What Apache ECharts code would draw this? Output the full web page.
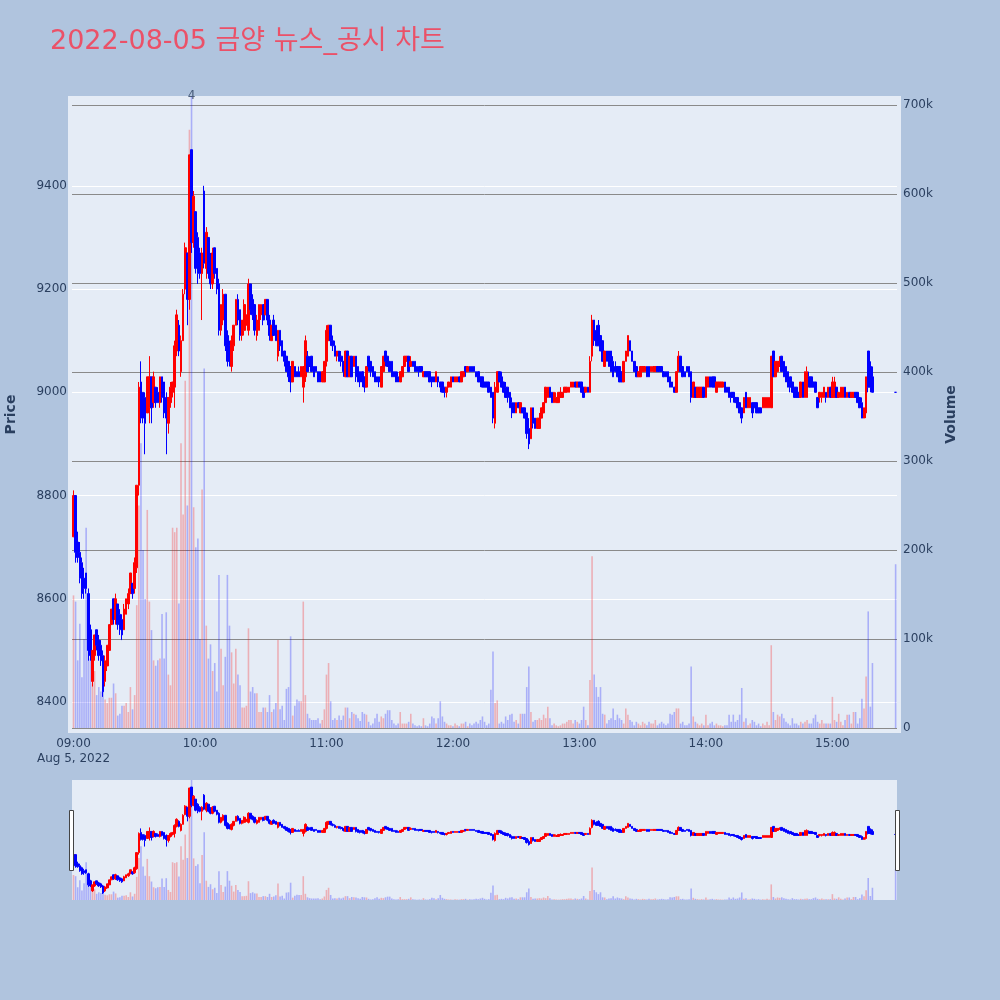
<!DOCTYPE html>
<html>
<head>
<meta charset="utf-8">
<script src="https://cdn.jsdelivr.net/npm/echarts@6/dist/echarts.min.js"></script>
<style>
html,body{margin:0;padding:0;background:#b0c4de;}
#chart{width:1000px;height:1000px;}
</style>
</head>
<body>
<div id="chart"></div>
<script>
// ---------------- DATA ----------------
const chartTitle = '2022-08-05 금양 뉴스_공시 차트';
const dateLabel = 'Aug 5, 2022';
const sessionStart = '09:00';           // first 1-minute bar
// 1-minute bars from 09:00 (one value per minute)
const opens = [
8720,8800,8710,8690,8670,8640,8650,8610,8540,8440,
8490,8540,8520,8510,8490,8440,8470,8500,8550,8600,
8560,8590,8570,8560,8540,8570,8590,8610,8630,8620,
8660,8820,9020,9000,8990,8960,8970,9030,8980,9010,
9000,8980,9030,9020,8990,8940,8980,9000,9010,9080,
9130,9040,9100,9200,9270,9180,9470,9290,9350,9300,
9270,9230,9390,9240,9300,9260,9210,9280,9240,9210,
9120,9140,9190,9110,9090,9050,9090,9130,9180,9160,
9110,9120,9130,9120,9210,9180,9170,9110,9120,9150,
9170,9150,9180,9140,9100,9140,9130,9070,9120,9100,
9080,9070,9060,9050,9020,9050,9040,9040,9030,9010,
9030,9070,9060,9070,9050,9050,9040,9040,9020,9020,
9060,9100,9130,9100,9090,9070,9080,9070,9060,9030,
9080,9030,9070,9050,9070,9050,9040,9040,9030,9010,
9070,9060,9050,9040,9030,9030,9010,9040,9080,9070,
9060,9060,9040,9040,9030,9020,9030,9050,9060,9070,
9050,9060,9060,9050,9050,9050,9030,9040,9040,9040,
9030,9030,9020,9030,9020,9020,9010,9000,9010,9010,
9030,9020,9020,9030,9020,9030,9050,9040,9050,9050,
9050,9040,9040,9030,9030,9020,9020,9020,9010,9000,
8940,9000,9040,9030,9020,9010,9010,9000,8980,8980,
8960,8980,8960,8970,8970,8960,8930,8910,8970,8950,
8930,8930,8950,8960,8980,8990,9010,9000,8980,8980,
8980,8990,8990,9000,9000,9000,9010,9010,9020,9010,
9020,9020,9010,9000,9010,9000,9070,9140,9120,9130,
9110,9100,9050,9080,9080,9080,9060,9050,9050,9050,
9040,9020,9060,9070,9100,9080,9060,9050,9030,9030,
9040,9040,9050,9050,9040,9040,9040,9050,9050,9050,
9040,9040,9040,9030,9020,9010,9000,9040,9070,9050,
9040,9050,9050,9040,8990,9010,8990,8990,8990,9010,
8990,9010,9030,9030,9030,9000,9010,9010,9010,9020,
9010,9010,9000,9000,8990,8990,8980,8970,8960,9000,
8970,8970,8980,8980,8980,8970,8970,8970,8970,8970,
8970,8970,9080,9030,9040,9050,9070,9060,9050,9040,
9030,9020,9010,9010,9000,8990,9020,8990,8990,9030,
9030,9020,9020,8990,8990,8990,8990,9000,8990,9010,
8990,8990,9010,8990,8990,8990,9010,8990,9000,8990,
8990,9000,9000,8990,8980,8950,8960,9080,9050,9030
];
const closes = [
8800,8690,8680,8640,8610,8620,8620,8500,8490,8500,
8530,8510,8490,8480,8420,8480,8510,8550,8580,8560,
8600,8550,8540,8530,8580,8600,8610,8650,8610,8670,
8820,9010,8950,8950,8940,9030,9030,8970,9030,8980,
8980,9030,8990,8960,8950,8990,9010,9020,9090,9150,
9080,9100,9190,9280,9180,9460,9290,9380,9240,9230,
9230,9270,9250,9310,9230,9210,9270,9230,9200,9120,
9170,9190,9090,9060,9060,9100,9130,9180,9140,9110,
9140,9170,9150,9210,9160,9150,9120,9140,9170,9170,
9140,9180,9140,9110,9130,9110,9100,9120,9090,9070,
9060,9040,9030,9020,9060,9030,9030,9030,9050,9050,
9100,9040,9050,9040,9030,9040,9020,9020,9040,9060,
9120,9130,9100,9090,9070,9080,9060,9060,9040,9080,
9030,9070,9030,9070,9030,9020,9020,9020,9010,9050,
9050,9040,9030,9020,9020,9020,9050,9070,9060,9050,
9040,9030,9030,9020,9020,9040,9050,9070,9070,9040,
9060,9050,9040,9040,9040,9040,9040,9030,9030,9020,
9020,9020,9040,9020,9010,9000,9000,9010,9020,9030,
9020,9030,9030,9020,9040,9040,9040,9050,9040,9040,
9040,9030,9020,9020,9010,9010,9010,9000,8990,8950,
9010,9040,9020,9010,9000,8990,8990,8970,8960,8960,
8980,8970,8980,8960,8950,8920,8900,8970,8940,8930,
8950,8950,8970,8980,9010,9010,8990,8980,9000,8990,
9000,9000,9000,9010,9010,9010,9020,9020,9010,9020,
9010,9000,8990,9010,9000,9060,9140,9100,9090,9090,
9080,9060,9080,9060,9050,9040,9030,9040,9030,9020,
9020,9060,9080,9110,9080,9060,9040,9030,9040,9050,
9050,9050,9030,9030,9050,9050,9050,9040,9040,9040,
9030,9030,9020,9010,9010,9000,9040,9070,9040,9030,
9030,9040,9030,8990,9020,8990,9010,9010,9010,8990,
9030,9030,9010,9010,9010,9020,9020,9020,9020,9000,
9000,8990,8990,8990,8980,8970,8960,8950,8990,8970,
8990,8990,8960,8970,8960,8960,8960,8990,8990,8990,
8990,9070,9030,9060,9060,9060,9040,9030,9020,9010,
9010,9000,8990,8990,8990,9020,8990,9040,9040,9010,
9010,9010,9000,8970,9000,9000,9010,8990,9010,8990,
9020,9020,8990,9000,9010,9010,8990,9000,8990,9000,
9000,8990,8980,8970,8950,8970,9030,9010,9010,9000
];
const lows = [
8720,8670,8670,8630,8600,8600,8610,8480,8480,8430,
8480,8500,8480,8470,8410,8430,8460,8500,8550,8550,
8550,8540,8530,8520,8540,8570,8580,8610,8600,8610,
8650,8800,8940,8940,8880,8960,8940,8940,8970,8970,
8980,8970,8980,8950,8880,8920,8970,8990,8970,9070,
9070,9030,9100,9190,9130,9160,9270,9280,9230,9210,
9220,9140,9240,9220,9220,9200,9200,9220,9190,9110,
9110,9130,9080,9050,9050,9040,9080,9130,9130,9100,
9100,9110,9130,9110,9150,9140,9110,9100,9120,9140,
9130,9150,9130,9100,9100,9110,9100,9060,9080,9070,
9050,9040,9020,9000,9020,9030,9030,9030,9030,8980,
9020,9040,9050,9040,9030,9040,9020,9020,9020,9020,
9050,9100,9090,9080,9070,9060,9060,9050,9030,9030,
9030,9030,9030,9050,9020,9020,9010,9010,9000,9010,
9040,9030,9030,9020,9020,9010,9010,9040,9050,9050,
9040,9030,9030,9020,9020,9020,9030,9050,9060,9040,
9050,9050,9040,9040,9030,9040,9030,9030,9030,9020,
9010,9020,9020,9010,9000,9000,8990,8990,9010,9010,
9020,9020,9020,9020,9020,9030,9030,9040,9040,9040,
9040,9030,9020,9010,9010,9010,9010,9000,8990,8940,
8930,9000,9020,9010,9000,8990,8980,8970,8950,8960,
8960,8970,8960,8960,8950,8910,8890,8910,8930,8930,
8930,8930,8950,8960,8980,8990,8990,8980,8980,8980,
8980,8990,8990,9000,9000,9000,9010,9010,9010,9010,
9010,9000,8990,9000,9000,9000,9060,9090,9090,9090,
9080,9060,9050,9060,9050,9040,9030,9040,9030,9020,
9020,9020,9060,9070,9080,9060,9040,9030,9030,9030,
9040,9040,9030,9030,9040,9040,9040,9040,9040,9040,
9030,9030,9020,9010,9010,9000,9000,9040,9040,9030,
9030,9040,9030,8980,8990,8990,8990,8990,8990,8990,
8990,9010,9010,9010,9010,9000,9010,9010,9010,9000,
9000,8990,8980,8980,8980,8970,8960,8940,8960,8970,
8970,8970,8950,8970,8960,8960,8960,8970,8970,8970,
8970,8970,9030,9030,9040,9050,9040,9030,9020,9010,
9000,9000,8990,8990,8990,8990,8990,8990,8990,9010,
9010,9010,9000,8970,8980,8980,8990,8980,8990,8990,
8990,8990,8990,8990,8990,8990,8990,8990,8990,8990,
8990,8990,8980,8970,8950,8950,8950,9000,9000,9000
];
const highs = [
8810,8800,8730,8710,8680,8660,8650,8620,8550,8500,
8530,8540,8530,8520,8500,8490,8510,8550,8580,8600,
8610,8590,8580,8570,8590,8600,8620,8650,8630,8680,
8820,9020,9060,9000,9000,9030,9070,9030,9040,9010,
9010,9030,9030,9020,9000,8990,9020,9020,9100,9160,
9140,9110,9200,9290,9270,9460,9470,9390,9350,9310,
9280,9280,9400,9320,9300,9270,9280,9280,9240,9220,
9170,9200,9190,9120,9100,9110,9130,9180,9190,9160,
9140,9180,9150,9220,9210,9190,9170,9150,9170,9170,
9170,9180,9180,9150,9130,9150,9130,9120,9120,9100,
9080,9070,9060,9050,9060,9050,9040,9050,9050,9050,
9110,9080,9070,9070,9050,9050,9040,9040,9040,9060,
9130,9130,9130,9110,9100,9080,9080,9080,9060,9080,
9080,9070,9070,9070,9070,9050,9040,9040,9030,9050,
9070,9060,9050,9040,9030,9030,9050,9070,9080,9070,
9060,9060,9040,9040,9040,9040,9050,9070,9070,9070,
9070,9060,9060,9050,9050,9050,9040,9040,9040,9040,
9030,9030,9040,9030,9020,9020,9010,9010,9020,9030,
9030,9030,9030,9030,9040,9040,9050,9050,9050,9050,
9050,9040,9040,9030,9030,9020,9020,9020,9010,9000,
9020,9040,9040,9040,9020,9020,9010,9000,8990,8980,
8980,8980,8980,8970,8970,8960,8950,8970,8970,8950,
8950,8960,8970,8980,9010,9010,9010,9000,9000,9000,
9000,9010,9000,9010,9010,9010,9020,9020,9020,9020,
9020,9020,9010,9010,9010,9070,9150,9140,9130,9140,
9110,9100,9080,9080,9080,9080,9070,9060,9050,9050,
9040,9060,9080,9110,9100,9080,9060,9050,9040,9050,
9050,9050,9050,9050,9050,9050,9050,9050,9050,9050,
9040,9040,9040,9030,9020,9010,9040,9080,9070,9050,
9040,9050,9050,9040,9020,9010,9010,9010,9010,9010,
9030,9030,9030,9030,9030,9020,9020,9020,9020,9020,
9010,9010,9000,9000,8990,8990,8980,8970,8990,9000,
8990,8990,8980,8980,8980,8970,8970,8990,8990,8990,
8990,9070,9080,9060,9060,9070,9070,9060,9050,9040,
9030,9020,9010,9010,9000,9020,9020,9040,9050,9040,
9030,9020,9020,8990,9000,9000,9010,9000,9010,9010,
9030,9030,9010,9000,9010,9010,9010,9000,9000,9000,
9000,9000,9000,8990,8990,8970,9030,9080,9060,9050
];
// volume per minute, in thousands of shares
const volumesK = [
149,142,76,117,57,100,225,92,78,50,
64,37,46,41,46,32,28,34,34,50,
39,14,16,25,25,28,18,46,21,37,
138,250,320,200,145,245,142,110,76,70,
76,78,128,78,130,60,48,225,220,225,
140,320,240,390,250,672,715,248,203,213,
100,268,404,115,78,94,64,73,41,172,
89,48,80,172,115,85,50,89,60,48,
23,23,25,112,41,46,39,39,18,18,
23,23,18,37,18,21,28,99,21,25,
9,44,46,103,14,25,32,30,30,142,
37,16,11,9,9,9,11,5,9,21,
60,73,30,9,11,9,14,9,14,23,
23,11,18,16,15,11,8,18,16,15,
7,3,5,11,16,7,13,11,16,20,
20,9,5,3,5,18,5,5,5,7,
16,5,3,2,3,2,11,3,2,5,
13,11,5,11,30,13,7,5,3,3,
2,5,3,2,5,5,7,2,5,3,
5,7,5,9,13,7,3,5,43,86,
28,31,5,7,5,13,9,15,16,7,
9,5,16,16,16,46,69,18,7,9,
9,11,9,15,11,24,11,3,5,3,
2,3,5,5,7,9,9,5,9,7,
5,9,24,9,3,54,193,60,46,35,
46,16,15,5,9,11,22,9,15,11,
9,5,22,15,9,7,3,7,5,3,
7,5,3,7,5,5,9,3,5,7,
5,3,5,16,15,18,22,22,5,7,
3,3,5,69,13,7,5,3,5,3,
15,3,5,7,3,5,3,3,2,3,
3,15,7,15,7,9,15,45,7,11,
3,5,9,7,3,5,2,5,3,7,
3,93,18,9,15,13,16,11,7,5,
3,11,5,5,3,7,5,7,9,5,
5,11,15,7,5,9,5,5,5,5,
35,9,7,16,7,3,9,15,15,5,
18,18,5,11,33,22,58,131,24,73
];
// closing single-price auction
const auctionTime = '15:30';
const auctionOHLC = [9000, 9000, 9000, 9000];   // open, close, low, high
const auctionVolumeK = 184;
// news annotation
const newsTimes = ['09:56'];
const newsCounts = [4];
// axis ticks
const xTickLabels = ['09:00','10:00','11:00','12:00','13:00','14:00','15:00'];
const priceTicks = [8400,8600,8800,9000,9200,9400];
const volumeTicksK = [0,100,200,300,400,500,600,700];

// ---------------- BUILD ----------------
const FONT = "'DejaVu Sans', Verdana, 'Noto Sans CJK KR', sans-serif";
const TXT = '#2a3f5f';
const UP = '#ff0000', DOWN = '#0000ff';
const UP_V = 'rgba(255,0,0,0.26)', DOWN_V = 'rgba(0,0,255,0.26)';

// x positions are minutes after the session start
function mins(hhmm) { const [h, m] = hhmm.split(':').map(Number); return h * 60 + m; }
const base = mins(sessionStart);
function xOf(hhmm) { return mins(hhmm) - base; }
function pad(n) { return (n < 10 ? '0' : '') + n; }
function fmtMin(v) { const t = Math.round(v) + base; return pad(Math.floor(t / 60)) + ':' + pad(t % 60); }

const candleData = opens.map((o, i) => [i, o, closes[i], lows[i], highs[i]]);
candleData.push({
  value: [xOf(auctionTime), auctionOHLC[0], auctionOHLC[1], auctionOHLC[2], auctionOHLC[3]],
  itemStyle: { color: DOWN, color0: DOWN, borderColor: DOWN, borderColor0: DOWN }
});
const volData = volumesK.map((v, i) => ({
  value: [i, v * 1000],
  itemStyle: { color: closes[i] > opens[i] ? UP_V : DOWN_V }
}));
volData.push({ value: [xOf(auctionTime), auctionVolumeK * 1000], itemStyle: { color: DOWN_V } });

const newsData = newsTimes.map((t, i) => [xOf(t), 710000, newsCounts[i]]);

const xMin = -0.71, xMax = 390.65;

const chart = echarts.init(document.getElementById('chart'), null, { renderer: 'canvas' });
chart.setOption({
  animation: false,
  backgroundColor: '#b0c4de',
  title: {
    text: chartTitle, left: 45, top: 23,
    textStyle: { fontFamily: FONT, fontSize: 27, fontWeight: 'normal', color: '#eb5168' }
  },
  graphic: [
    { type: 'rect', z: -10, shape: { x: 68, y: 96, width: 833, height: 637 }, style: { fill: '#e5ecf6' } },
    { type: 'rect', z: -10, shape: { x: 72, y: 780, width: 825, height: 120 }, style: { fill: '#e5ecf6' } },
    { type: 'rect', z: 100, shape: { x: 69.5, y: 810.5, width: 4, height: 60 }, style: { fill: '#ffffff', stroke: '#444', lineWidth: 1 } },
    { type: 'rect', z: 100, shape: { x: 895.5, y: 810.5, width: 4, height: 60 }, style: { fill: '#ffffff', stroke: '#444', lineWidth: 1 } }
  ],
  grid: [
    { left: 72, right: 103, top: 96, bottom: 267, outerBoundsMode: 'none', containLabel: false },
    { left: 72, right: 103, top: 780, height: 120, outerBoundsMode: 'none', containLabel: false }
  ],
  xAxis: [
    {
      type: 'value', gridIndex: 0, min: xMin, max: xMax,
      axisLine: { show: false }, axisTick: { show: false }, splitLine: { show: false },
      axisLabel: {
        customValues: xTickLabels.map(xOf),
        color: TXT, fontFamily: FONT, fontSize: 12, margin: 3, lineHeight: 15,
        formatter: function (v) {
          const s = fmtMin(v);
          return s === xTickLabels[0] ? s + '\n' + dateLabel : s;
        }
      }
    },
    {
      type: 'value', gridIndex: 1, min: xMin, max: xMax, show: false,
      axisLine: { show: false }, axisTick: { show: false }, splitLine: { show: false }, axisLabel: { show: false }
    }
  ],
  yAxis: [
    {
      type: 'value', gridIndex: 0, position: 'left', min: 8340, max: 9574, splitNumber: 6,
      axisLine: { show: false }, axisTick: { show: false },
      splitLine: { show: true, showMinLine: false, showMaxLine: false, lineStyle: { color: '#ffffff', width: 1 } },
      axisLabel: {
        color: TXT, fontFamily: FONT, fontSize: 12, margin: 5,
        formatter: v => (priceTicks.indexOf(v) >= 0 ? String(v) : '')
      },
      name: 'Price', nameLocation: 'middle', nameRotate: 90, nameGap: 54,
      nameTextStyle: { color: TXT, fontFamily: FONT, fontSize: 14, fontWeight: 'bold' }
    },
    {
      type: 'value', gridIndex: 0, position: 'right', min: -5600, max: 710000, splitNumber: 7,
      axisLine: { show: false }, axisTick: { show: false },
      splitLine: { show: true, showMinLine: false, showMaxLine: false, lineStyle: { color: '#8a8a8a', width: 1 } },
      axisLabel: {
        color: TXT, fontFamily: FONT, fontSize: 12, margin: 6,
        formatter: v => (volumeTicksK.indexOf(v / 1000) >= 0 ? (v === 0 ? '0' : (v / 1000) + 'k') : '')
      },
      name: 'Volume', nameLocation: 'middle', nameRotate: 90, nameGap: 47,
      nameTextStyle: { color: TXT, fontFamily: FONT, fontSize: 14, fontWeight: 'bold' }
    },
    { type: 'value', gridIndex: 1, min: 8350, max: 9540, show: false, splitLine: { show: false } },
    { type: 'value', gridIndex: 1, min: 0, max: 715000, show: false, splitLine: { show: false } }
  ],
  series: [
    {
      name: 'Volume', type: 'bar', xAxisIndex: 0, yAxisIndex: 1, z: 1,
      barWidth: 1.6, data: volData, clip: true
    },
    {
      name: 'Price', type: 'candlestick', xAxisIndex: 0, yAxisIndex: 0, z: 3,
      barWidth: 2.1, data: candleData, clip: true,
      itemStyle: { color: UP, color0: DOWN, borderColor: UP, borderColor0: DOWN, borderWidth: 1 }
    },
    {
      name: 'News', type: 'scatter', xAxisIndex: 0, yAxisIndex: 1, z: 5, clip: false,
      symbolSize: 0, data: newsData,
      label: {
        show: true, position: 'inside', color: TXT, fontFamily: FONT, fontSize: 12,
        formatter: p => String(p.value[2])
      }
    },
    {
      name: 'VolumeMini', type: 'bar', xAxisIndex: 1, yAxisIndex: 3, z: 1,
      barWidth: 1.6, data: volData
    },
    {
      name: 'PriceMini', type: 'candlestick', xAxisIndex: 1, yAxisIndex: 2, z: 3,
      barWidth: 2.1, data: candleData,
      itemStyle: { color: UP, color0: DOWN, borderColor: UP, borderColor0: DOWN, borderWidth: 1 }
    }
  ]
});
</script>
</body>
</html>
